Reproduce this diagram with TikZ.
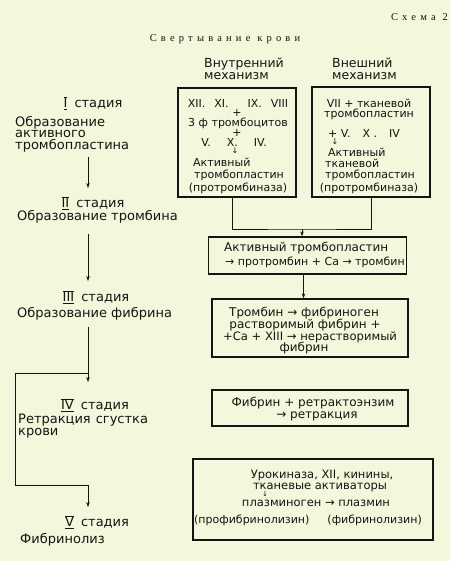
\documentclass[tikz,border=0pt]{standalone}
\usepackage{fontspec}
\setmainfont{DejaVu Sans}
\newfontfamily\spacedserif[LetterSpace=40]{Liberation Serif}
\usetikzlibrary{arrows.meta}
\definecolor{bg}{RGB}{242,248,220}
\definecolor{ink}{RGB}{20,20,20}
\newcommand{\rn}[1]{\ensuremath{\overline{\underline{\hbox{#1}}}}\hspace{3pt}}
\tikzset{
  box/.style={draw=ink, line width=1.3pt, rectangle, inner sep=0pt},
  txt/.style={inner sep=0pt, text=ink, font=\fontsize{11}{12}\selectfont},
  dn/.style={inner sep=0pt, text=ink, font=\fontsize{8}{8}\selectfont},
  mid/.style={inner sep=0pt, text=ink, font=\fontsize{12}{13}\selectfont},
  lbl/.style={inner sep=0pt, text=ink, font=\fontsize{13}{11.5}\selectfont},
  head/.style={inner sep=0pt, text=ink, font=\spacedserif\fontsize{10.5}{12}\selectfont},
  conn/.style={draw=ink, line width=0.9pt},
  arr/.style={conn, -{Stealth[length=5pt,width=3.5pt]}},
}
\begin{document}
\begin{tikzpicture}[x=1pt,y=-1pt]
\fill[bg] (0,0) rectangle (450,561);
\useasboundingbox (0,0) rectangle (450,561);

% headings
\node[head, anchor=east] (scheme) at (448,17) {Схема 2};
\node[head] (title) at (225,39) {Свертывание крови};
\node[lbl, font=\fontsize{12.5}{11.5}\selectfont, anchor=north west, align=left] (inner) at (204,58) {Внутренний\\механизм};
\node[lbl, font=\fontsize{12.5}{11.5}\selectfont, anchor=north west, align=left] (outer) at (332,58) {Внешний\\механизм};

% boxes
\node[box, minimum width=118pt, minimum height=109pt] (b1) at (237,142.5) {};
\node[box, minimum width=118pt, minimum height=110pt] (b2) at (371,142) {};
\node[box, minimum width=198pt, minimum height=37pt] (b3) at (307.5,255.5) {};
\node[box, minimum width=196pt, minimum height=58pt] (b4) at (310,328) {};
\node[box, minimum width=196pt, minimum height=36pt] (b5) at (310,408) {};
\node[box, minimum width=240pt, minimum height=81pt] (b6) at (313,499.5) {};

% box 1 text
\node[txt] (b1a) at (238,103) {XII.\hspace{9pt}XI.\hspace{19pt}IX.\hspace{9pt}VIII};
\node[txt] (b1b) at (237,113) {+};
\node[txt] (b1c) at (238,123) {3 ф тромбоцитов};
\node[txt] (b1d) at (237,133) {+};
\node[txt] (b1e) at (234,142) {V.\hspace{16pt}X.\hspace{16pt}IV.};
\node[dn] (b1f) at (235,151) {↓};
\node[txt, anchor=west] (b1g) at (193,162) {Активный};
\node[txt] (b1h) at (239,175) {тромбопластин};
\node[txt] (b1i) at (238,188) {(протромбиназа)};

% box 2 text
\node[txt] (b2a) at (369,103) {VII + тканевой};
\node[txt] (b2b) at (369,114) {тромбопластин};
\node[txt] (b2c) at (364,133) {+ V.\hspace{12pt}X .\hspace{12pt}IV};
\node[dn] (b2d) at (335,142) {↓};
\node[txt, anchor=west] (b2e) at (328,152) {Активный};
\node[txt, anchor=west] (b2f) at (325,163) {тканевой};
\node[txt] (b2g) at (370,175) {тромбопластин};
\node[txt] (b2h) at (369,188) {(протромбиназа)};

% box 3 text
\node[mid, anchor=west] (b3a) at (224,248) {Активный тромбопластин};
\node[mid, font=\fontsize{11}{12}\selectfont, anchor=west] (b3b) at (225,262) {→ протромбин + Са → тромбин};

% box 4 text
\node[mid] (b4a) at (304,313) {Тромбин → фибриноген};
\node[mid] (b4b) at (305,325) {растворимый фибрин +};
\node[mid, font=\fontsize{11.6}{13}\selectfont] (b4c) at (310,337) {+Са + XIII → нерастворимый};
\node[mid] (b4d) at (304,348) {фибрин};

% box 5 text
\node[mid] (b5a) at (313,403) {Фибрин + ретрактоэнзим};
\node[mid] (b5b) at (317,416) {→ ретракция};

% box 6 text
\node[txt, font=\fontsize{11.5}{12}\selectfont] (b6a) at (322,475) {Урокиназа, XII, кинины,};
\node[txt, font=\fontsize{11.5}{12}\selectfont] (b6b) at (320,487) {тканевые активаторы};
\node[dn, font=\fontsize{7}{7}\selectfont] (b6c) at (265,494) {↓};
\node[txt, font=\fontsize{11.5}{12}\selectfont] (b6d) at (316,503) {плазминоген → плазмин};
\node[txt] (b6e) at (308,520) {(профибринолизин)\hspace{18pt}(фибринолизин)};

% left column
\node[lbl] (s1) at (93,103) {\rn{I} стадия};
\node[lbl, anchor=north west, align=left] (t1) at (15,116) {Образование\\активного\\тромбопластина};
\node[lbl] (s2) at (93,203) {\rn{II} стадия};
\node[lbl, anchor=west] (t2) at (17,217) {Образование тромбина};
\node[lbl] (s3) at (96,297) {\rn{III} стадия};
\node[lbl, anchor=west] (t3) at (17,314) {Образование фибрина};
\node[lbl] (s4) at (95,405) {\rn{IV} стадия};
\node[lbl, anchor=north west, align=left] (t4) at (18,414) {Ретракция\hspace{5pt}сгустка\\крови};
\node[lbl] (s5) at (97,522) {\rn{V} стадия};
\node[lbl, anchor=west] (t5) at (20,540) {Фибринолиз};

% left connectors
\coordinate (ax) at (88,0);
\draw[arr, shorten <=5pt, shorten >=8pt] (ax |- t1.south) -- (ax |- s2.north);
\draw[arr, shorten <=10pt, shorten >=9pt] (ax |- t2.south) -- (ax |- s3.north);
\draw[arr, shorten <=6pt, shorten >=16pt] (ax |- t3.south) -- (ax |- s4.north);
\coordinate (br) at (88,373);
\coordinate (bl) at (15,485);
\coordinate (bk) at (88,485);
\draw[conn] (br) -| (bl) -- (bk);
\draw[arr, shorten >=8pt] (bk) -- (bk |- s5.north);

% right connectors
\coordinate (j) at (302,229);
\draw[conn] ([xshift=-5pt]b1.south) |- (j) -| (b2.south);
\draw[arr] (j) -- (j |- b3.north);
\coordinate (c1) at ([xshift=-4pt]b3.south);
\draw[arr] (c1) -- (c1 |- b4.north);
\end{tikzpicture}
\end{document}
